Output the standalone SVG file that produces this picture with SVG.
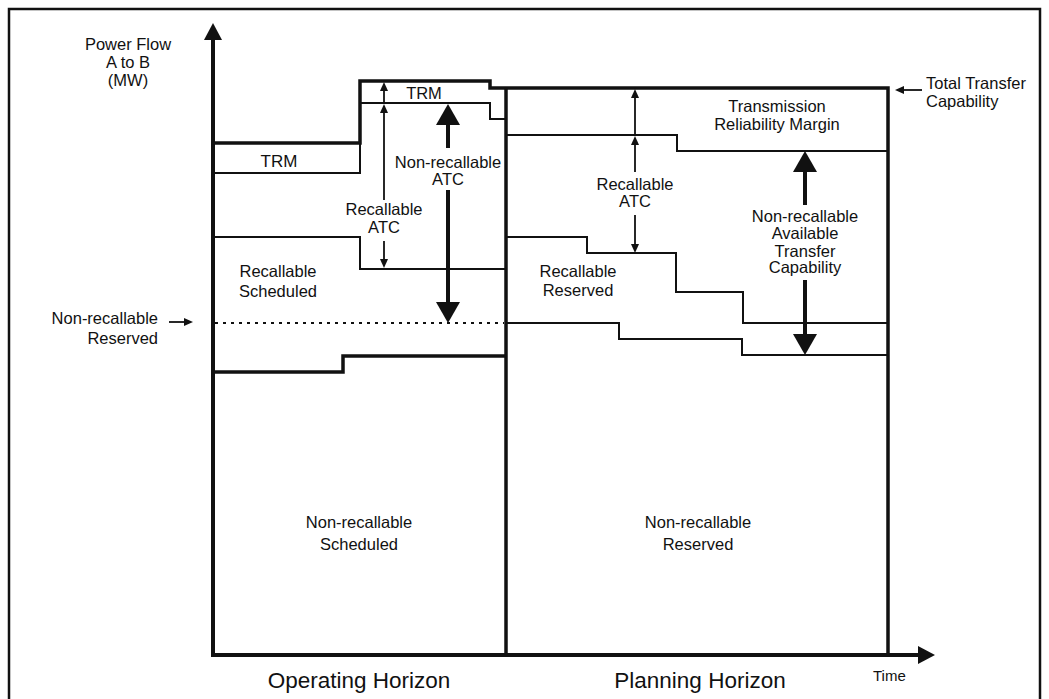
<svg xmlns="http://www.w3.org/2000/svg" width="1049" height="699" viewBox="0 0 1049 699">
  <style>
    .frame { fill: none; stroke: #111; stroke-width: 2.5; }
    .thick { fill: none; stroke: #111; stroke-width: 3.5; }
    .thin { fill: none; stroke: #111; stroke-width: 2; }
    .dotted { fill: none; stroke: #111; stroke-width: 2; stroke-dasharray: 3 5; }
    .arr-s { fill: none; stroke: #111; stroke-width: 1.8; marker-end: url(#ah-s); }
    .arr-b { fill: none; stroke: #111; stroke-width: 4; marker-end: url(#ah-b); }
    .axis { fill: none; stroke: #111; stroke-width: 4; marker-end: url(#ah-ax); }
    text { font-family: "Liberation Sans", Arial, Helvetica, sans-serif; font-size: 16.5px; fill: #111; }
    .c { text-anchor: middle; }
    .r { text-anchor: end; }
    .big { font-size: 22.5px; }
  </style>
  <defs>
    <marker id="ah-s" markerUnits="userSpaceOnUse" orient="auto" refX="0" refY="0" markerWidth="12" markerHeight="10" overflow="visible">
      <path d="M0,-4 L9,0 L0,4 z" fill="#111"/>
    </marker>
    <marker id="ah-b" markerUnits="userSpaceOnUse" orient="auto" refX="0" refY="0" markerWidth="24" markerHeight="26" overflow="visible">
      <path d="M0,-12 L21,0 L0,12 z" fill="#111"/>
    </marker>
    <marker id="ah-ax" markerUnits="userSpaceOnUse" orient="auto" refX="0" refY="0" markerWidth="20" markerHeight="20" overflow="visible">
      <path d="M0,-9 L17,0 L0,9 z" fill="#111"/>
    </marker>
  </defs>

  <rect width="1049" height="699" fill="#fff"/>
  <rect class="frame" x="9" y="9" width="1031" height="702"/>

  <!-- axes -->
  <g id="axes">
    <line class="axis" x1="213" y1="657" x2="213" y2="40"/>
    <line class="axis" x1="211" y1="655" x2="918" y2="655"/>
    <text class="c" x="128" y="50">Power Flow</text>
    <text class="c" x="128" y="68">A to B</text>
    <text class="c" x="128" y="86">(MW)</text>
    <text x="873" y="681" style="font-size:15px">Time</text>
  </g>

  <!-- region outlines -->
  <g id="ttc">
    <path class="thick" d="M213,143 H360 V81 H490 V88 H888 V655"/>
    <line class="thick" x1="506" y1="88" x2="506" y2="655"/>
    <line class="arr-s" x1="922" y1="90" x2="904" y2="90"/>
    <text x="926" y="89">Total Transfer</text>
    <text x="926" y="107">Capability</text>
  </g>

  <g id="op-trm">
    <path class="thin" d="M213,173 H360 V143"/>
    <path class="thin" d="M360,103 H490 V119 H506"/>
    <text class="c" x="279" y="167" style="font-size:17px">TRM</text>
    <text class="c" x="424" y="99">TRM</text>
  </g>

  <g id="op-recallable-scheduled">
    <path class="thin" d="M213,237 H360 V269 H506"/>
    <text class="c" x="278" y="277">Recallable</text>
    <text class="c" x="278" y="297">Scheduled</text>
  </g>

  <g id="op-nonrecallable-reserved">
    <line class="dotted" x1="215" y1="323" x2="504" y2="323"/>
    <line class="arr-s" x1="169" y1="322" x2="184" y2="322"/>
    <text class="r" x="158" y="324">Non-recallable</text>
    <text class="r" x="158" y="344">Reserved</text>
  </g>

  <g id="op-nonrecallable-scheduled">
    <path class="thick" d="M213,372 H343 V356 H506"/>
    <text class="c" x="359" y="528">Non-recallable</text>
    <text class="c" x="359" y="550">Scheduled</text>
  </g>

  <g id="pl-trm">
    <path class="thin" d="M506,135 H677 V151 H888"/>
    <text class="c" x="777" y="112">Transmission</text>
    <text class="c" x="777" y="130">Reliability Margin</text>
  </g>

  <g id="pl-recallable-reserved">
    <path class="thin" d="M506,237 H587 V253 H676 V292 H743 V323 H888"/>
    <text class="c" x="578" y="277">Recallable</text>
    <text class="c" x="578" y="296">Reserved</text>
  </g>

  <g id="pl-nonrecallable-reserved">
    <path class="thin" d="M506,323 H619 V339 H742 V355 H888"/>
    <text class="c" x="698" y="528">Non-recallable</text>
    <text class="c" x="698" y="550">Reserved</text>
  </g>

  <!-- capability arrows -->
  <g id="connectors">
    <line class="arr-s" x1="384" y1="200" x2="384" y2="113"/>
    <line class="arr-s" x1="384" y1="104" x2="384" y2="91"/>
    <line class="arr-s" x1="384" y1="241" x2="384" y2="259"/>
    <line class="arr-b" x1="448" y1="148" x2="448" y2="125"/>
    <line class="arr-b" x1="448" y1="190" x2="448" y2="302"/>
    <line class="arr-s" x1="635" y1="172" x2="635" y2="145"/>
    <line class="arr-s" x1="635" y1="136" x2="635" y2="98"/>
    <line class="arr-s" x1="635" y1="215" x2="635" y2="244"/>
    <line class="arr-b" x1="805" y1="205" x2="805" y2="172"/>
    <line class="arr-b" x1="805" y1="280" x2="805" y2="334"/>
  </g>

  <g id="labels-atc">
    <text class="c" x="384" y="215">Recallable</text>
    <text class="c" x="384" y="233">ATC</text>
    <text class="c" x="448" y="168">Non-recallable</text>
    <text class="c" x="448" y="185">ATC</text>
    <text class="c" x="635" y="190">Recallable</text>
    <text class="c" x="635" y="207">ATC</text>
    <text class="c" x="805" y="222">Non-recallable</text>
    <text class="c" x="805" y="239">Available</text>
    <text class="c" x="805" y="257">Transfer</text>
    <text class="c" x="805" y="273">Capability</text>
  </g>

  <g id="horizons">
    <text class="c big" x="359" y="688">Operating Horizon</text>
    <text class="c big" x="700" y="688">Planning Horizon</text>
  </g>
</svg>
